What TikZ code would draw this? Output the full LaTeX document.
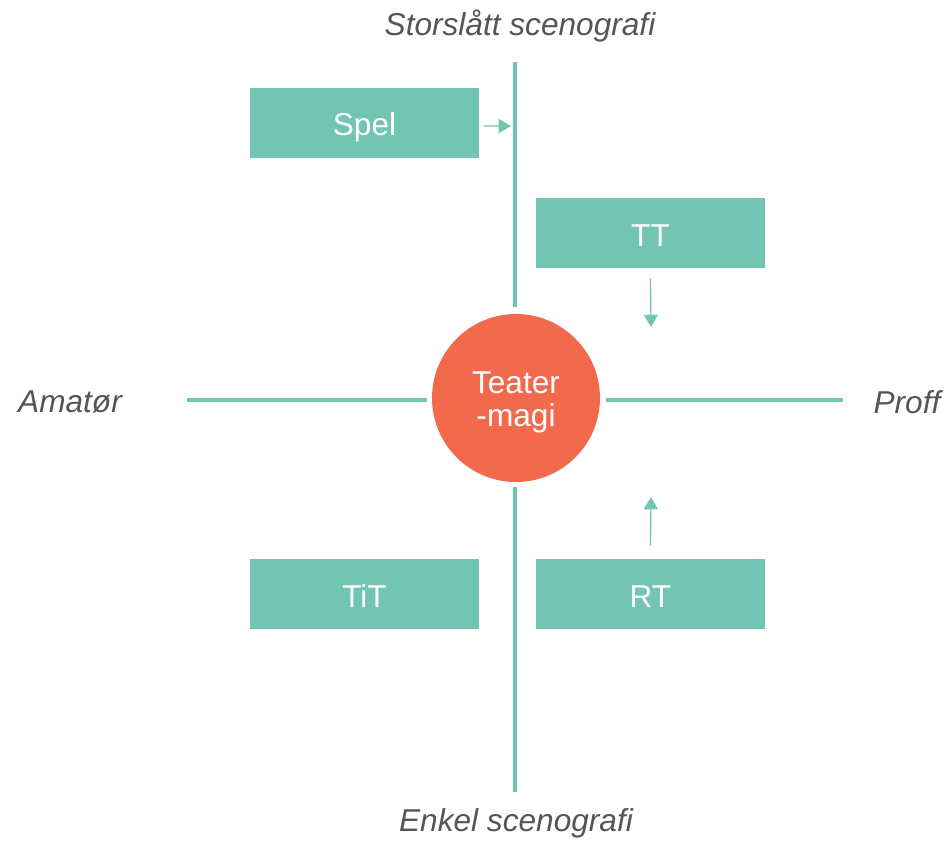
\documentclass[tikz,border=0pt]{standalone}
\usepackage{fontspec}
\setmainfont{Liberation Sans}
\usepackage{tikz}
\usetikzlibrary{arrows.meta}

\definecolor{groupteal}{HTML}{72C4B3}
\definecolor{coral}{HTML}{F2694C}
\definecolor{axisgray}{HTML}{555555}

\begin{document}
\begin{tikzpicture}[x=0.02cm, y=-0.02cm,
    box/.style={fill=groupteal, minimum width=4.58cm, minimum height=1.4cm, text height=15pt, text depth=0pt,
                text=white, font=\fontsize{18}{19}\selectfont},
    axistext/.style={text=axisgray, font=\fontsize{18}{19}\selectfont\itshape},
    axisline/.style={draw=groupteal, line width=2.3pt},
    hint/.style={draw=groupteal, line width=0.7pt, -{Triangle[length=7pt, width=8pt]}}]
  \useasboundingbox (0,0) rectangle (949,843);

  % Aksar
  \coordinate (top) at (515,62);
  \coordinate (bottom) at (515,792);
  \coordinate (left) at (187,400);
  \coordinate (right) at (843,400);
  \node[circle, fill=coral, minimum size=3.36cm, inner sep=0pt, text=white, align=center,
        font=\fontsize{18}{19}\selectfont] (magi) at (516,398) {\vphantom{Tg}\\[-14pt]Teater\\-magi};
  \draw[axisline] (top) -- (515,307);
  \draw[axisline] (515,487) -- (bottom);
  \draw[axisline] (left) -- (427,400);
  \draw[axisline] (606,400) -- (right);

  % Ytterpunkt
  \node[axistext] (stor) at (520,26) {Storslått scenografi};
  \node[axistext] (enkel) at (516,823) {Enkel scenografi};
  \node[axistext] (amator) at (70,402) {Amatør};
  \node[axistext] (proff) at (907,402) {Proff};

  % Teatergrupper
  \node[box] (spel) at (364.5,122.5) {Spel};
  \node[box] (tt) at (650.5,233) {TT};
  \node[box] (tit) at (364.5,594) {TiT};
  \node[box] (rt) at (650.5,594) {RT};

  % Rørsle
  \coordinate (spelend) at (511,126);
  \coordinate (ttend) at (651,327);
  \coordinate (rtend) at (651,497);
  \draw[hint] (spel.east) ++(4,3.5) -- (spelend);
  \draw[hint] (tt.south) ++(0,10) -- (ttend);
  \draw[hint] (rt.north) ++(0,-13) -- (rtend);
\end{tikzpicture}
\end{document}
